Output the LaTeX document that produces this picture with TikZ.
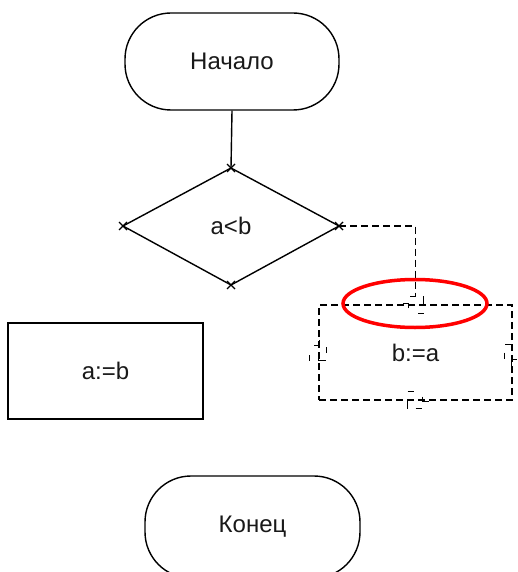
\documentclass[tikz,border=0pt]{standalone}
\usepackage{fontspec}
\setmainfont{Liberation Sans}
\usetikzlibrary{shapes.geometric}
\begin{document}
\begin{tikzpicture}[x=1pt,y=-1pt,line width=1.4pt,
  lbl/.style={font=\fontsize{24}{28}\selectfont,inner sep=0pt,text=black!90},
  dsh/.style={dash pattern=on 7pt off 4pt},
  term/.style={draw,rounded corners=46pt,lbl},
  boxn/.style={draw,lbl},
  brk/.pic={\draw[line width=1.4pt] (-8,-9)--(-2,-9) (-4,0)--(-8,0)--(-8,8) (0,8)--(6,8) (7,-4)--(7,1)--(13,1);}]
\useasboundingbox (0,0) rectangle (518,572);
\fill[white] (0,0) rectangle (518,572);
% start
\node[term,minimum width=214pt,minimum height=97pt] (start) at (232,61.5) {Начало};
% diamond
\coordinate (dt) at (231,168);
\coordinate (dl) at (123,226);
\coordinate (dr) at (339,226);
\coordinate (db) at (231,285);
\draw (dt) -- (dr) -- (db) -- (dl) -- cycle;
\node[lbl] (cond) at (231,226) {a<b};
\foreach \p in {dt,dl,dr,db}
  \draw ([shift={(-4,-4)}]\p) -- ([shift={(4,4)}]\p) ([shift={(-4,4)}]\p) -- ([shift={(4,-4)}]\p);
\draw (start.south) -- (dt);
% boxes
\node[boxn,minimum width=195pt,minimum height=96pt] (ab) at (105.5,371) {a:=b};
\node[boxn,dsh,minimum width=193pt,minimum height=95pt] (ba) at (415.5,352.5) {b:=a};
\pic[rotate=180] at (ba.north) {brk};
\pic at (ba.south) {brk};
\pic[rotate=90] at (ba.west) {brk};
\pic[rotate=-90] at (ba.east) {brk};
\draw[dsh,shorten >=8pt] (dr) -| (ba.north);
% end
\node[term,minimum width=215pt,minimum height=102pt] (end) at (252.5,527) {Конец};
% highlight
\node[draw=red,ellipse,line width=3.5pt,minimum width=144pt,minimum height=48pt,inner sep=0pt] (hl) at (415,303.5) {};
\end{tikzpicture}
\end{document}
